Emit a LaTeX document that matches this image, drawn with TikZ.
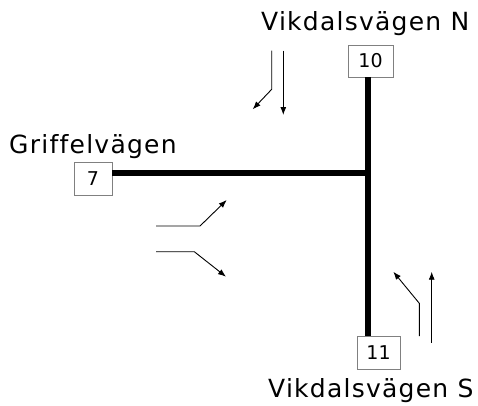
\documentclass[tikz,border=0pt]{standalone}
\usepackage{fontspec}
\setmainfont{DejaVu Sans}
\newfontfamily\roadfont{DejaVu Sans}[LetterSpace=5,Ligatures=NoCommon]
\usetikzlibrary{arrows.meta}

\begin{document}
\begin{tikzpicture}[x=1pt,y=-1pt,
    stop/.style={draw=gray,line width=0.8pt,fill=white,minimum width=40pt,
      minimum height=33pt,inner sep=0pt,font=\fontsize{19}{19}\selectfont},
    road/.style={line width=6pt},
    lane/.style={line width=0.9pt,-{Latex[length=8pt,width=6pt]}},
    streetname/.style={font=\roadfont\fontsize{25}{25}\selectfont,
      inner sep=0pt,anchor=base west}]
    \useasboundingbox (0,0) rectangle (478,405);

    % stops
    \node[stop,minimum width=45pt,minimum height=32pt] (n10) at (370.5,61) {10};
    \node[stop,minimum width=38pt] (n7) at (93,178.5) {7};
    \node[stop,minimum width=43pt] (n11) at (378.5,352.5) {11};
    \coordinate (junc) at (368,173);

    % roads
    \draw[road] (n10.south -| junc) -- (n11.north -| junc);
    \draw[road] (n7.east |- junc) -- ([xshift=3pt]junc);

    % street names
    \node[streetname] (north) at (261,30) {Vikdalsvägen N};
    \node[streetname] (west) at (9,153) {Griffelvägen};
    \node[streetname] (south) at (268,397) {Vikdalsvägen S};

    % traffic from the north
    \coordinate (nl1) at (271.7,50.7);
    \coordinate (nl2) at (271.7,89.3);
    \coordinate (nl3) at (252.7,109.3);
    \coordinate (nr1) at (283.3,50.7);
    \coordinate (nr2) at (283.3,115);
    \draw[lane] (nl1) -- (nl2) -- (nl3);
    \draw[lane] (nr1) -- (nr2);

    % traffic from the west
    \coordinate (wl1) at (156,226);
    \coordinate (wl2) at (200,226);
    \coordinate (wl3) at (226.7,200);
    \coordinate (wr1) at (156,251.7);
    \coordinate (wr2) at (194.3,251.7);
    \coordinate (wr3) at (226,276.7);
    \draw[lane] (wl1) -- (wl2) -- (wl3);
    \draw[lane] (wr1) -- (wr2) -- (wr3);

    % traffic from the south
    \coordinate (sl1) at (419.3,336);
    \coordinate (sl2) at (419.3,303.3);
    \coordinate (sl3) at (393.3,271.7);
    \coordinate (sr1) at (431.7,342.7);
    \coordinate (sr2) at (431.7,271.7);
    \draw[lane] (sl1) -- (sl2) -- (sl3);
    \draw[lane] (sr1) -- (sr2);
  \end{tikzpicture}
\end{document}
